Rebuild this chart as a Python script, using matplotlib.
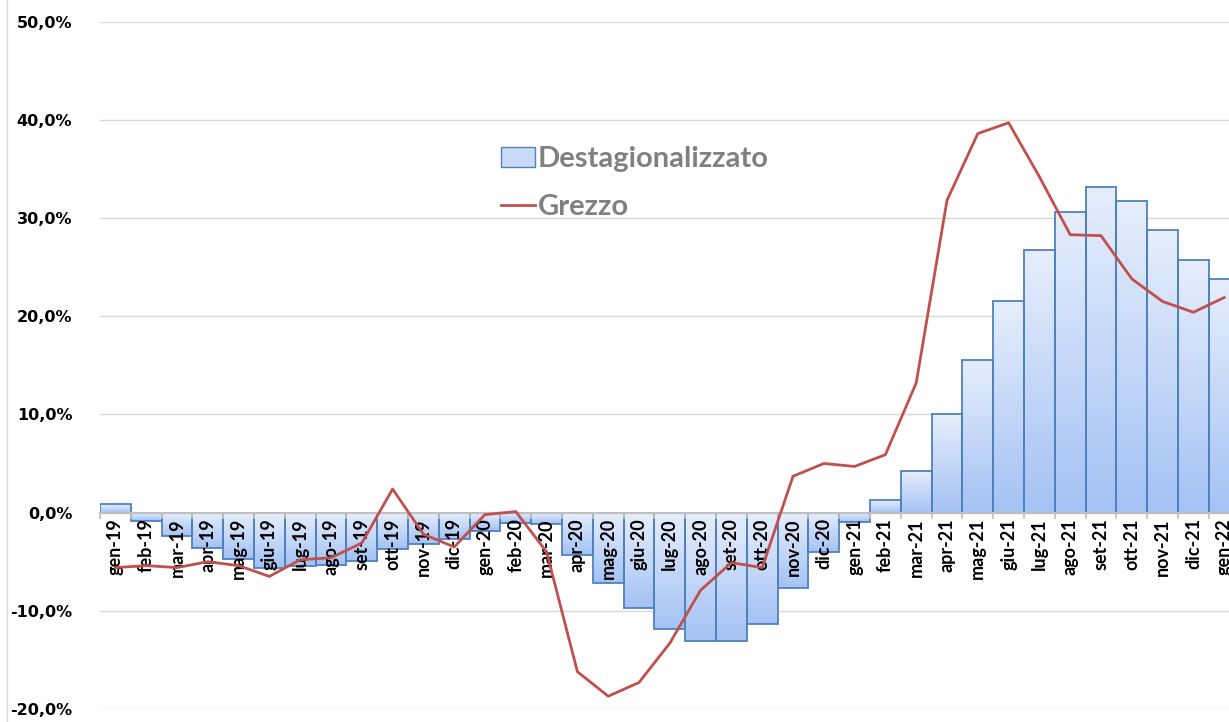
import numpy as np
import matplotlib
matplotlib.use("Agg")
import matplotlib.pyplot as plt
from matplotlib.colors import LinearSegmentedColormap
from matplotlib.patches import Patch
from matplotlib.lines import Line2D

mesi = ['gen-19', 'feb-19', 'mar-19', 'apr-19', 'mag-19', 'giu-19', 'lug-19', 'ago-19',
        'set-19', 'ott-19', 'nov-19', 'dic-19', 'gen-20', 'feb-20', 'mar-20', 'apr-20',
        'mag-20', 'giu-20', 'lug-20', 'ago-20', 'set-20', 'ott-20', 'nov-20', 'dic-20',
        'gen-21', 'feb-21', 'mar-21', 'apr-21', 'mag-21', 'giu-21', 'lug-21', 'ago-21',
        'set-21', 'ott-21', 'nov-21', 'dic-21', 'gen-22']

# destagionalizzato (%)
destag = [0.9, -0.85, -2.4, -3.6, -4.7, -5.6, -5.4, -5.3, -4.9, -3.7, -3.2, -2.7,
          -1.9, -1.1, -1.2, -4.3, -7.2, -9.7, -11.9, -13.1, -13.1, -11.3, -7.7, -4.0,
          -1.0, 1.3, 4.2, 10.0, 15.5, 21.5, 26.7, 30.6, 33.2, 31.7, 28.8, 25.7, 23.8]

# grezzo (%)
grezzo = [-5.6, -5.4, -5.6, -5.0, -5.4, -6.5, -4.8, -4.6, -3.1, 2.4, -2.2, -3.5,
          -0.2, 0.1, -4.0, -16.2, -18.7, -17.3, -13.3, -7.9, -5.1, -5.6, 3.7, 5.0,
          4.7, 5.9, 13.2, 31.8, 38.6, 39.7, 34.2, 28.3, 28.2, 23.8, 21.5, 20.4, 21.9]

yticks = [-20, -10, 0, 10, 20, 30, 40, 50]

W, H = 1229, 722
fig = plt.figure(figsize=(W / 100, H / 100), dpi=100)
ax = fig.add_axes([100 / W, 13 / H, 1139.6 / W, 687.4 / H])

x = np.arange(len(mesi))
ax.set_xlim(-0.5, len(mesi) - 0.5)
ax.set_ylim(-20, 50)

# gradient fill for bars
cmap = LinearSegmentedColormap.from_list('blu', ['#a4c2f4', '#e6eefc'])
grad = np.linspace(0, 1, 100).reshape(-1, 1)
for xi, v in zip(x, destag):
    lo, hi = min(0, v), max(0, v)
    ax.imshow(grad, cmap=cmap, aspect='auto', origin='lower',
              extent=[xi - 0.5, xi + 0.5, lo, hi], zorder=2)
ax.bar(x, destag, width=1.0, facecolor='none', edgecolor='#4f81bd',
       linewidth=1.3, zorder=3)

ax.plot(x, grezzo, color='#c0504d', linewidth=2.0, zorder=6)

# grid and axes
ax.set_yticks(yticks)
ax.set_yticklabels([f'{v},0%' for v in yticks], fontfamily='DejaVu Sans',
                   fontweight='bold', fontsize=11.5)
ax.yaxis.grid(True, color='#d9d9d9', linewidth=1.0, zorder=0)
ax.set_axisbelow(True)
ax.tick_params(axis='y', length=0, pad=20)

for s in ['top', 'right', 'left']:
    ax.spines[s].set_visible(False)
ax.spines['bottom'].set_position(('data', 0))
ax.spines['bottom'].set_color('#bfbfbf')
ax.spines['bottom'].set_linewidth(1.5)
ax.spines['bottom'].set_zorder(3.5)

ax.set_xticks(x)
ax.set_xticklabels(mesi, rotation=90, fontfamily='Lato', fontweight='bold',
                   fontsize=13, va='top')
ax.set_xticks(np.arange(len(mesi) + 1) - 0.5, minor=True)
ax.tick_params(axis='x', which='major', length=0, pad=4)
ax.tick_params(axis='x', which='minor', length=4, color='#bfbfbf', width=1.2)
ax.xaxis.set_zorder(5)

# legend
handles = [Patch(facecolor='#c9dbf7', edgecolor='#4f81bd', linewidth=1.0),
           Line2D([0], [0], color='#c0504d', linewidth=2.0)]
leg = fig.legend(handles, ['Destagionalizzato', 'Grezzo'], loc='upper left',
                 bbox_to_anchor=(501 / W, 1 - 146 / H), frameon=False,
                 prop={'family': 'Lato', 'weight': 'bold', 'size': 21},
                 labelcolor='#808080', handlelength=1.17, handletextpad=0.1,
                 labelspacing=0.76, handleheight=0.7, borderpad=0,
                 borderaxespad=0)

# chart border at left
fig.add_artist(Line2D([7 / W, 7 / W], [0, 1], color='#d9d9d9', linewidth=1.0))

fig.savefig('out.png', dpi=100)
